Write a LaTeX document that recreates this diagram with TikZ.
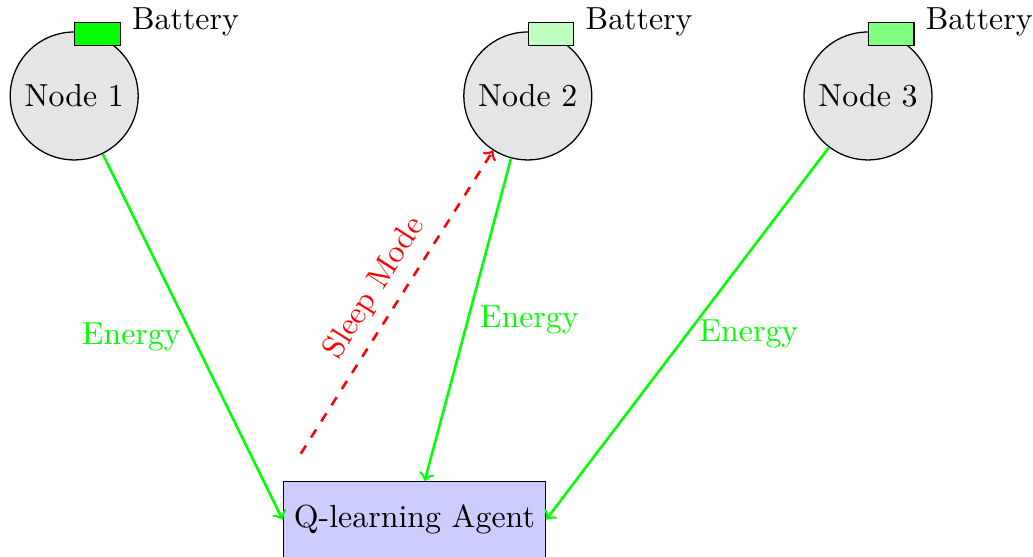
\documentclass[tikz,border=0pt]{standalone}
\begin{document}
\begin{tikzpicture}[
		sensor/.style={circle, draw, fill=gray!20},
		battery/.style={rectangle, draw, minimum width=0.5cm, minimum height=0.25cm, anchor=west},
		agentbox/.style={rectangle, draw, fill=blue!20, minimum height=0.84cm},
		energy/.style={->, thick, green},
		sleep/.style={->, thick, red, dashed}
	]
		\useasboundingbox (-0.818, -5.072) rectangle (10.569, 1.058);

		\node[sensor] (n1) at (0, 0) {Node 1};
		\node[sensor] (n2) at (5, 0) {Node 2};
		\node[sensor] (n3) at (8.75, 0) {Node 3};

		\node[battery, fill=green] (b1) at ([yshift=-0.8pt]n1.north) {};
		\node[right] (bl1) at (b1.north east) {Battery};

		\node[battery, fill=green!25] (b2) at ([yshift=-0.8pt]n2.north) {};
		\node[right] (bl2) at (b2.north east) {Battery};

		\node[battery, fill=green!50] (b3) at ([yshift=-0.8pt]n3.north) {};
		\node[right] (bl3) at (b3.north east) {Battery};

		\node[agentbox] (agent) at (3.75, -4.67) {Q-learning Agent};

		\draw[energy] (n1) -- (agent.west) node[midway, left] {Energy};
		\draw[energy] (n2) -- (agent) node[midway, right] {Energy};
		\draw[energy] (n3) -- (agent.east) node[midway, right] {Energy};

		\coordinate (sleepstart) at ([shift={(0.2, 0.3)}]agent.north west);
		\draw[sleep] (sleepstart) -- (n2) node[midway, above, sloped] {Sleep Mode};
	\end{tikzpicture}
\end{document}
